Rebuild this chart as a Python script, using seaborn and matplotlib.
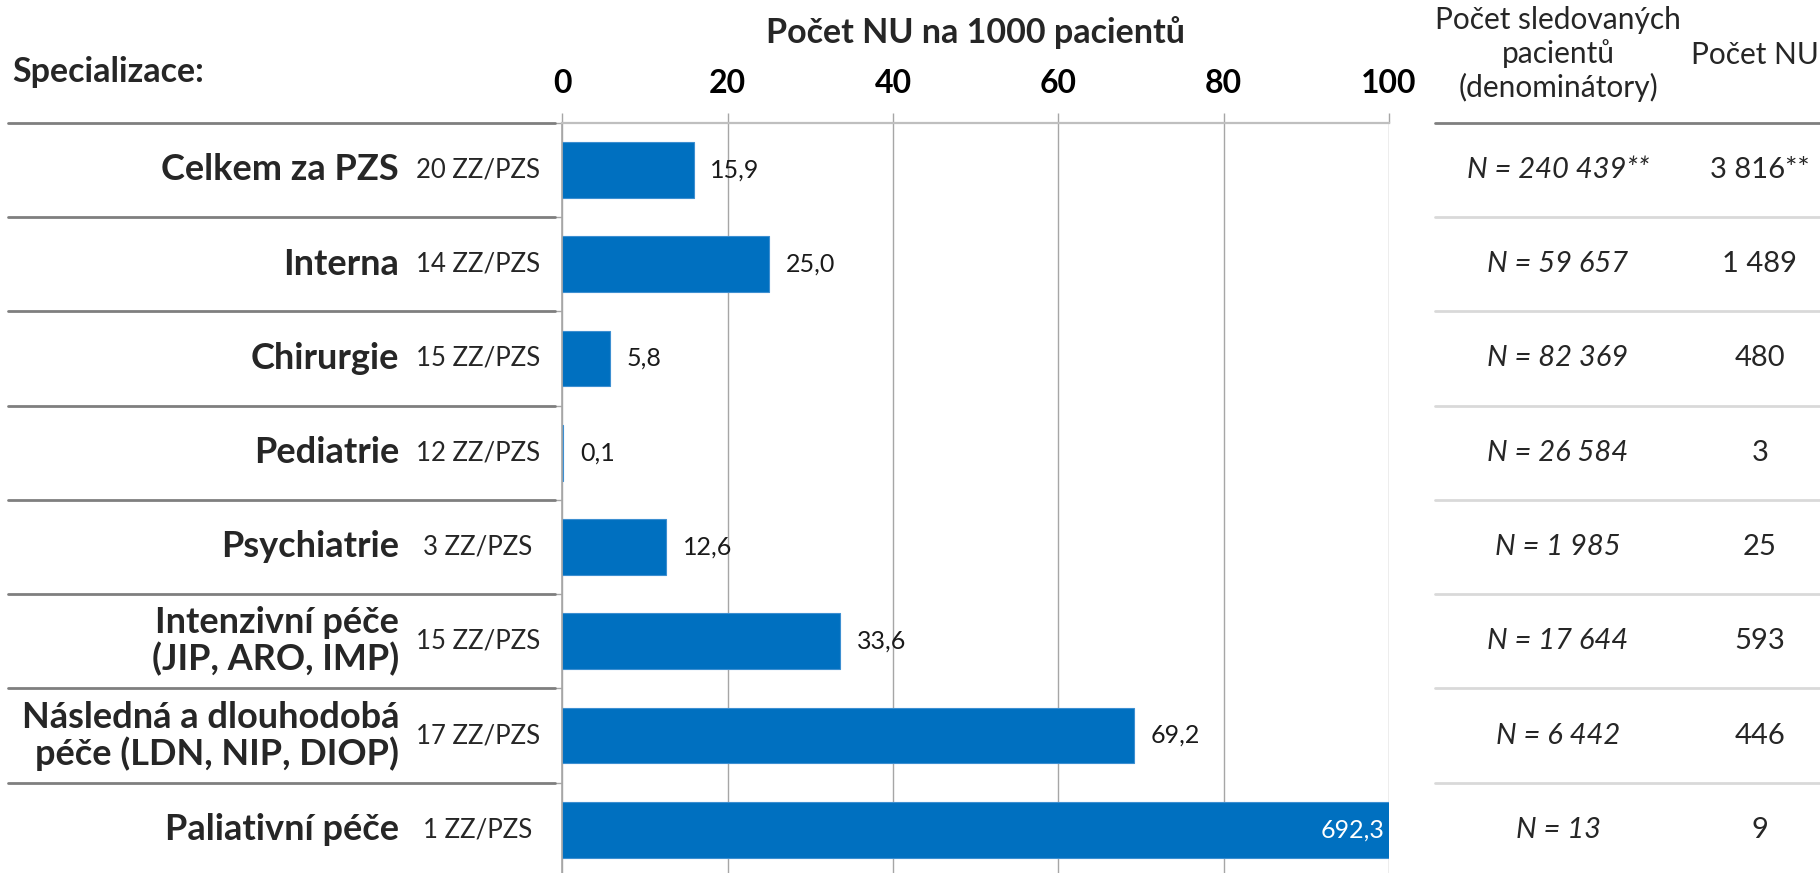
import numpy as np
import pandas as pd
import matplotlib
matplotlib.use("Agg")
import matplotlib.pyplot as plt
import seaborn as sns
from matplotlib import transforms
from matplotlib.lines import Line2D

# ---------------- data ----------------
categories = [
    "Celkem za PZS",
    "Interna",
    "Chirurgie",
    "Pediatrie",
    "Psychiatrie",
    "Intenzivní péče\n(JIP, ARO, IMP)",
    "Následná a dlouhodobá\npéče (LDN, NIP, DIOP)",
    "Paliativní péče",
]
rates = [15.9, 25.0, 5.8, 0.1, 12.6, 33.6, 69.2, 692.3]
facilities = [20, 14, 15, 12, 3, 15, 17, 1]
denominators = [240439, 59657, 82369, 26584, 1985, 17644, 6442, 13]
nu_counts = [3816, 1489, 480, 3, 25, 593, 446, 9]
marked = [True, False, False, False, False, False, False, False]
x_ticks = [0, 20, 40, 60, 80, 100]

title = "Počet NU na 1000 pacientů"
left_header = "Specializace:"
den_header = "Počet sledovaných\npacientů\n(denominátory)"
cnt_header = "Počet NU"

# ---------------- style ----------------
sns.set_theme(style="white")
plt.rcParams["font.family"] = ["Lato", "DejaVu Sans"]

W, H = 1820, 873
BLUE = "#0070C0"
GRID = "#a6a6a6"
DARK = "#7f7f7f"
LIGHT = "#d9d9d9"

fig = plt.figure(figsize=(W / 100, H / 100), dpi=100)
x0, x1 = 562.3, 1389.0
ytop, ybot = 122.7, 877.0
ax = fig.add_axes([x0 / W, 1 - ybot / H, (x1 - x0) / W, (ybot - ytop) / H])

df = pd.DataFrame({"cat": categories, "rate": rates})
sns.barplot(data=df, y="cat", x="rate", orient="h", color=BLUE, saturation=1,
            width=0.59, ax=ax, edgecolor="#3d8fd1", linewidth=0.8)

ax.set_xlim(0, 100)
ax.set_ylim(len(categories) - 0.5, -0.5)
ax.set_xlabel("")
ax.set_ylabel("")
ax.set_yticks([])
ax.set_yticks(np.arange(-0.5, len(categories), 1), minor=True)
ax.tick_params(axis="y", which="minor", left=True, length=5, color=GRID, width=1)

ax.xaxis.tick_top()
ax.set_xticks(x_ticks)
ax.set_xticklabels([str(t) for t in x_ticks], fontweight="bold", fontsize=23)
ax.tick_params(axis="x", top=True, bottom=False, direction="out", length=7,
               color=GRID, width=1, pad=11, labelcolor="black")
ax.xaxis.grid(True, color=GRID, linewidth=1.0)
ax.set_axisbelow(True)
for s in ["right", "bottom"]:
    ax.spines[s].set_visible(False)
ax.spines["top"].set_color("#bfbfbf")
ax.spines["top"].set_linewidth(1.6)
ax.spines["left"].set_color(GRID)
ax.spines["left"].set_linewidth(1.2)

# value labels
for i, v in enumerate(rates):
    lab = f"{v:.1f}".replace(".", ",")
    if v > 100:
        ax.annotate(lab, xy=(100, i), xytext=(-3, 0), textcoords="offset points",
                    ha="right", va="center", fontsize=18, color="white")
    else:
        ax.annotate(lab, xy=(v, i), xytext=(12, 0), textcoords="offset points",
                    ha="left", va="center", fontsize=18, color="#1a1a1a")

trans = transforms.blended_transform_factory(fig.transFigure, ax.transData)


def fmt(n):
    return f"{n:,}".replace(",", " ")


for i, cat in enumerate(categories):
    ax.text(399 / W, i, cat, transform=trans, ha="right", va="center",
            fontsize=26, fontweight="bold", linespacing=1.08, clip_on=False)
    ax.text(478 / W, i, f"{facilities[i]} ZZ/PZS", transform=trans, ha="center",
            va="center", fontsize=18.5, clip_on=False)
    star = "**" if marked[i] else ""
    ax.text(1558 / W, i, f"N = {fmt(denominators[i])}{star}", transform=trans,
            ha="center", va="center", fontsize=21, fontstyle="italic", clip_on=False)
    ax.text(1760 / W, i, f"{fmt(nu_counts[i])}{star}", transform=trans,
            ha="center", va="center", fontsize=21, clip_on=False)

# row separators
for k, b in enumerate(np.arange(-0.5, len(categories) - 1, 1)):
    fig.add_artist(Line2D([8 / W, 555 / W], [b, b], transform=trans,
                          color=DARK, linewidth=2.0))
    fig.add_artist(Line2D([1435 / W, 1.0], [b, b], transform=trans,
                          color=DARK if k == 0 else LIGHT, linewidth=2.0))

# headers
fig.text((x0 + x1) / 2 / W, 1 - 32.5 / H, title, ha="center", va="center",
         fontsize=24.5, fontweight="bold")
fig.text(12 / W, 1 - 72 / H, left_header, ha="left", va="center",
         fontsize=24.5, fontweight="bold")
fig.text(1558 / W, 1 - 54 / H, den_header, ha="center", va="center",
         fontsize=21.5, linespacing=1.22)
fig.text(1755 / W, 1 - 54.5 / H, cnt_header, ha="center", va="center", fontsize=21.5)

fig.savefig("out.png", dpi=100)
